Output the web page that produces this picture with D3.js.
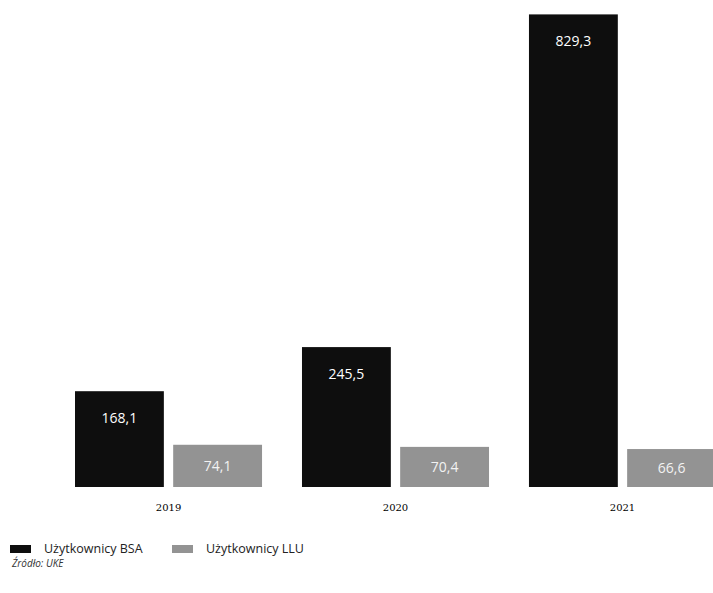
<!DOCTYPE html>
<html>
<head>
<meta charset="utf-8">
<script src="https://cdn.jsdelivr.net/npm/d3@7"></script>
<style>
  html, body { margin: 0; padding: 0; background: #fff; overflow: hidden; }
  svg { display: block; }
</style>
</head>
<body>
<svg id="chart" width="713" height="593"></svg>
<script>
// Users of wholesale access services (thousands)
const years = ["2019", "2020", "2021"];
const seriesNames = ["Użytkownicy BSA", "Użytkownicy LLU"];
const bsaValues = [168.1, 245.5, 829.3];
const lluValues = [74.1, 70.4, 66.6];
const sourceText = "Źródło: UKE";

const colors = ["#0e0e0e", "#939393"];
const fmt = v => d3.format(".1f")(v).replace(".", ",");

const svg = d3.select("#chart");

const x = d3.scaleBand().domain(years).range([75, 716]).paddingInner(0.176).paddingOuter(0);
const xs = d3.scaleBand().domain(seriesNames).range([0, x.bandwidth()]).paddingInner(0.095);
const y = d3.scaleLinear().domain([0, 830]).range([487, 14]);

const rows = years.map((yr, i) => ({
  year: yr,
  values: [
    { key: seriesNames[0], v: bsaValues[i], c: 0 },
    { key: seriesNames[1], v: lluValues[i], c: 1 }
  ]
}));

const groups = svg.selectAll("g.year")
  .data(rows).join("g")
  .attr("class", "year")
  .attr("transform", d => `translate(${x(d.year)},0)`);

groups.selectAll("rect")
  .data(d => d.values).join("rect")
  .attr("x", d => xs(d.key))
  .attr("width", xs.bandwidth())
  .attr("y", d => y(d.v))
  .attr("height", d => y(0) - y(d.v))
  .attr("fill", d => colors[d.c]);

groups.selectAll("text.val")
  .data(d => d.values).join("text")
  .attr("class", "val")
  .attr("x", d => xs(d.key) + xs.bandwidth() / 2)
  .attr("y", d => Math.min(y(d.v) + 27, (y(d.v) + y(0)) / 2))
  .attr("dy", "0.35em")
  .attr("text-anchor", "middle")
  .attr("font-family", "'Open Sans', sans-serif")
  .attr("font-size", 14)
  .attr("fill", d => d.c === 0 ? "#fff" : "#f2f2f2")
  .text(d => fmt(d.v));

// Category axis (labels only)
const xAxis = d3.axisBottom(x).tickSize(0).tickPadding(0);
const axisG = svg.append("g")
  .attr("transform", `translate(0,${y(0) + 17})`)
  .call(xAxis);
axisG.select(".domain").remove();
axisG.selectAll("text")
  .attr("font-family", "'DejaVu Serif', serif")
  .attr("font-size", 10)
  .attr("fill", "#000");

// Legend
const legendX = [10, 172];
const legend = svg.selectAll("g.legend")
  .data(seriesNames).join("g")
  .attr("class", "legend")
  .attr("transform", (d, i) => `translate(${legendX[i]},545)`);
legend.append("rect")
  .attr("width", 21).attr("height", 8)
  .attr("fill", (d, i) => colors[i]);
legend.append("text")
  .attr("x", 34).attr("y", 4).attr("dy", "0.35em")
  .attr("font-family", "'Open Sans', sans-serif")
  .attr("font-size", 12.5)
  .attr("fill", "#222")
  .text(d => d);

// Source note
svg.append("text")
  .attr("x", 12).attr("y", 567)
  .attr("font-family", "'Open Sans', sans-serif")
  .attr("font-size", 10)
  .attr("font-style", "italic")
  .attr("fill", "#333")
  .text(sourceText);
</script>
</body>
</html>
